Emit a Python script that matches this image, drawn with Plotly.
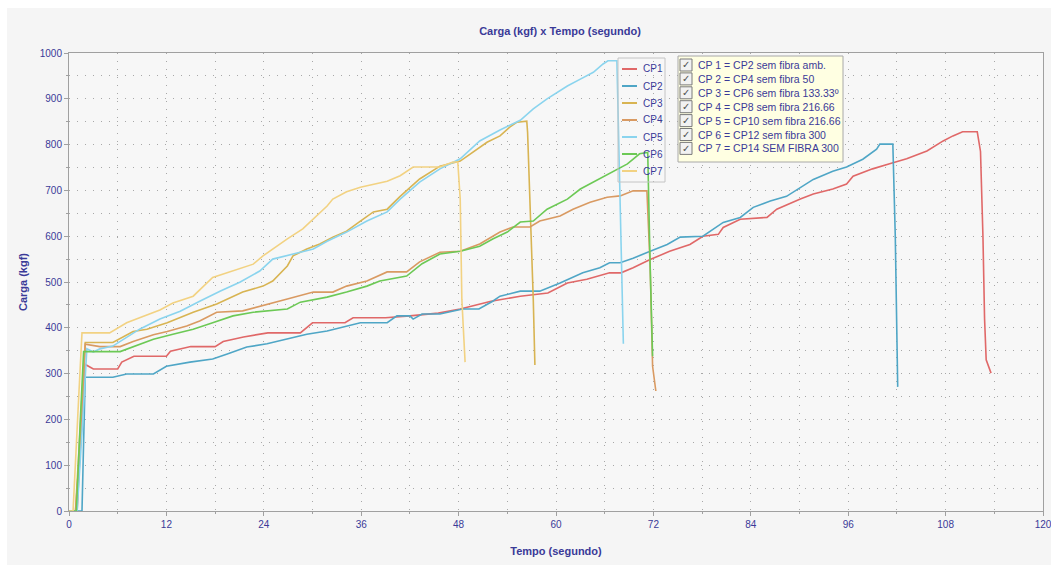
import plotly.graph_objects as go

# ---------------- data ----------------
series_names = ["CP1", "CP2", "CP3", "CP4", "CP5", "CP6", "CP7"]
series_colors = ["#e06868", "#4fa6c6", "#d8b452", "#d99a62", "#8ad4ee", "#6cc955", "#f2d282"]

cp1_x = [0, 1.0, 1.5, 2.0, 3.0, 6.0, 6.5, 8.0, 12.0, 12.5, 15.0, 18.0, 19.0, 21.5, 24.5, 28.5, 30.0, 34.0, 35.0,
         39.0, 42.0, 45.5, 48.2, 52.0, 55.6, 59.0, 61.4, 63.8, 66.6, 68.0, 69.5, 71.6, 74.0, 76.5, 78.1, 80.0,
         80.6, 82.7, 86.0, 87.2, 90.1, 91.7, 94.1, 95.8, 96.6, 99.0, 101.1, 103.2, 105.7, 107.7, 108.9, 110.1,
         111.9, 112.3, 112.6, 112.8, 113.0, 113.6]
cp1_y = [0, 0, 180, 320, 310, 310, 325, 338, 338, 349, 359, 359, 370, 380, 389, 389, 411, 411, 422,
         422, 426, 432, 441, 458, 469, 476, 498, 506, 520, 520, 531, 549, 567, 582, 600, 604,
         619, 637, 641, 659, 681, 692, 703, 714, 731, 747, 758, 769, 786, 808, 819, 828,
         828, 785, 600, 420, 330, 301]

cp2_x = [0, 1.6, 1.8, 2.0, 5.4, 7.1, 10.4, 12.0, 14.9, 17.7, 19.5, 21.9, 24.4, 26.9, 29.3, 31.8, 34.2, 35.9,
         39.2, 40.4, 42.0, 42.4, 43.5, 45.7, 48.5, 50.5, 52.2, 53.1, 55.6, 58.0, 60.5, 63.3, 65.4, 66.6, 67.9,
         69.5, 71.6, 73.7, 75.3, 78.1, 80.6, 82.7, 84.3, 86.4, 88.4, 90.1, 91.7, 94.1, 95.8, 97.8, 99.5, 99.9,
         101.5, 101.8, 102.0, 102.1]
cp2_y = [0, 0, 150, 292, 292, 299, 299, 316, 325, 332, 343, 358, 365, 375, 386, 393, 404, 411,
         411, 426, 426, 419, 430, 430, 441, 441, 458, 469, 480, 480, 498, 520, 531, 542, 542,
         552, 567, 582, 598, 600, 630, 641, 663, 677, 687, 706, 724, 742, 751, 768, 790, 801,
         801, 600, 419, 271]

cp3_x = [0, 0.8, 1.6, 2.0, 3.8, 5.4, 7.9, 9.6, 12.1, 15.3, 18.2, 21.4, 23.9, 25.1, 26.9, 27.6, 29.3, 30.9,
         32.5, 34.2, 35.9, 37.5, 39.2, 40.8, 43.2, 45.7, 48.2, 49.8, 51.5, 53.1, 54.3, 55.2, 56.4, 56.5, 56.8,
         57.2, 57.4]
cp3_y = [0, 0, 250, 368, 368, 368, 392, 397, 411, 434, 452, 478, 491, 502, 535, 557, 572, 583,
         598, 611, 633, 653, 659, 687, 725, 753, 764, 783, 805, 819, 838, 849, 851, 827, 681,
         462, 319]

cp4_x = [0, 0.8, 1.6, 2.0, 3.8, 6.3, 7.9, 10.4, 12.1, 14.5, 16.1, 18.2, 21.4, 24.4, 26.9, 30.1, 32.5, 34.2,
         36.7, 39.2, 41.6, 43.2, 45.7, 48.2, 50.6, 53.1, 54.7, 56.8, 58.0, 60.5, 62.1, 64.2, 66.3, 67.9, 69.5,
         71.2, 71.6, 71.9, 72.3]
cp4_y = [0, 0, 200, 364, 359, 359, 370, 385, 392, 404, 415, 434, 437, 452, 463, 478, 478, 491,
         502, 522, 522, 544, 565, 567, 583, 609, 620, 620, 633, 644, 659, 674, 685, 688, 699,
         699, 535, 316, 262]

cp5_x = [0, 1.0, 1.7, 2.2, 3.0, 3.8, 5.4, 7.1, 8.7, 11.2, 13.7, 16.1, 18.6, 21.1, 23.5, 25.1, 27.6, 30.1,
         31.8, 34.2, 36.7, 39.2, 40.8, 43.2, 45.7, 48.2, 50.6, 53.1, 55.6, 57.2, 58.9, 61.4, 63.0, 64.6, 65.8,
         66.4, 67.5, 67.6, 68.3]
cp5_y = [0, 0, 200, 354, 347, 354, 360, 380, 397, 419, 436, 458, 480, 500, 524, 550, 561, 572,
         589, 609, 633, 653, 681, 718, 747, 769, 808, 832, 853, 878, 900, 928, 943, 958, 976,
         983, 983, 900, 365]

cp6_x = [0, 0.9, 1.4, 1.8, 6.3, 7.9, 10.4, 12.8, 15.3, 17.7, 20.2, 22.7, 26.9, 28.5, 31.8, 34.2, 36.7, 38.3,
         41.6, 43.5, 45.7, 48.2, 50.6, 52.2, 54.0, 55.6, 57.2, 58.9, 61.4, 63.0, 64.6, 67.0, 68.8, 70.3, 71.3,
         71.6, 71.9]
cp6_y = [0, 0, 200, 348, 348, 359, 375, 386, 397, 411, 426, 434, 441, 456, 467, 478, 491, 502,
         513, 540, 561, 567, 578, 594, 609, 631, 633, 659, 681, 703, 718, 740, 758, 780, 783,
         535, 338]

cp7_x = [0, 0.5, 1.2, 1.6, 5.0, 6.0, 7.1, 8.7, 11.2, 12.8, 15.3, 17.7, 20.2, 22.7, 23.9, 25.1, 26.9, 28.8,
         30.1, 31.8, 32.5, 34.2, 35.9, 37.9, 39.2, 40.8, 42.4, 45.7, 47.3, 47.9, 48.2, 48.4, 48.8]
cp7_y = [0, 0, 250, 389, 389, 400, 411, 422, 439, 454, 469, 510, 524, 539, 557, 572, 594, 616,
         638, 666, 681, 697, 707, 714, 720, 732, 751, 751, 762, 762, 681, 462, 325]

checklist_labels = [
    "CP 1 = CP2 sem fibra amb.",
    "CP 2 = CP4 sem fibra 50",
    "CP 3 = CP6 sem fibra 133.33º",
    "CP 4 = CP8 sem fibra 216.66",
    "CP 5 = CP10 sem fibra 216.66",
    "CP 6 = CP12 sem fibra 300",
    "CP 7 = CP14 SEM FIBRA 300",
]

title_text = "Carga (kgf) x Tempo (segundo)"
x_title = "Tempo (segundo)"
y_title = "Carga (kgf)"

xs = [cp1_x, cp2_x, cp3_x, cp4_x, cp5_x, cp6_x, cp7_x]
ys = [cp1_y, cp2_y, cp3_y, cp4_y, cp5_y, cp6_y, cp7_y]

# ---------------- figure ----------------
W, H = 1051, 565
ML, MR, MT, MB = 69, 8, 53, 54
PW, PH = W - ML - MR, H - MT - MB


def px2xf(px):  # pixel -> paper fraction
    return (px - ML) / PW


def py2yf(py):
    return (H - MB - py) / PH


BLUE = "#3a3a98"
FONT = "Liberation Sans Narrow, Liberation Sans, Arial, sans-serif"

fig = go.Figure()
for name, color, x, y in zip(series_names, series_colors, xs, ys):
    fig.add_trace(go.Scatter(x=x, y=y, mode="lines", name=name,
                             line=dict(color=color, width=1.6), showlegend=False))

grid_common = dict(gridcolor="#a8a8a8", griddash="1px,7px", gridwidth=1)
fig.update_xaxes(range=[0, 120], tick0=0, dtick=12, showline=True, linecolor="#a0a0a0", linewidth=1,
                 mirror=True, ticks="outside", ticklen=4, tickcolor="#a0a0a0", zeroline=False,
                 ticklabeloverflow="allow", automargin=False,
                 tickfont=dict(family=FONT, size=10, color=BLUE),
                 title=dict(text="<b>" + x_title + "</b>", font=dict(family=FONT, size=11, color=BLUE), standoff=18),
                 showgrid=True, **grid_common,
                 minor=dict(dtick=6, showgrid=True, ticks="outside", ticklen=2, tickcolor="#a0a0a0", **grid_common))
fig.update_yaxes(range=[0, 1000], tick0=0, dtick=100, showline=True, linecolor="#a0a0a0", linewidth=1,
                 mirror=True, ticks="outside", ticklen=4, tickcolor="#a0a0a0", zeroline=False,
                 ticklabeloverflow="allow", automargin=False,
                 tickfont=dict(family=FONT, size=10, color=BLUE),
                 title=dict(text="<b>" + y_title + "</b>", font=dict(family=FONT, size=11, color=BLUE), standoff=9),
                 showgrid=True, **grid_common,
                 minor=dict(dtick=50, showgrid=True, ticks="outside", ticklen=2, tickcolor="#a0a0a0", **grid_common))

shapes = []
annotations = []

# white outer strips (top & left) of the original window frame
shapes.append(dict(type="rect", xref="paper", yref="paper", layer="below",
                   x0=px2xf(0), x1=px2xf(W + 20), y0=py2yf(8), y1=py2yf(0),
                   fillcolor="white", line=dict(width=0)))
shapes.append(dict(type="rect", xref="paper", yref="paper", layer="below",
                   x0=px2xf(0), x1=px2xf(7), y0=py2yf(H), y1=py2yf(0),
                   fillcolor="white", line=dict(width=0)))

# series legend box (transparent)
shapes.append(dict(type="rect", xref="paper", yref="paper",
                   x0=px2xf(618), x1=px2xf(665), y0=py2yf(182), y1=py2yf(58),
                   fillcolor="rgba(0,0,0,0)", line=dict(color="#c4c4c4", width=1)))
for i, (name, color) in enumerate(zip(series_names, series_colors)):
    py = 69 + 17 * i
    shapes.append(dict(type="line", xref="paper", yref="paper",
                       x0=px2xf(622), x1=px2xf(637), y0=py2yf(py), y1=py2yf(py),
                       line=dict(color=color, width=2)))
    annotations.append(dict(xref="paper", yref="paper", x=px2xf(641), y=py2yf(py),
                            text=name, showarrow=False, xanchor="left", yanchor="middle",
                            font=dict(family=FONT, size=10, color=BLUE)))

# checklist box
shapes.append(dict(type="rect", xref="paper", yref="paper",
                   x0=px2xf(678), x1=px2xf(843), y0=py2yf(162), y1=py2yf(56),
                   fillcolor="#ffffe2", line=dict(color="#a8a8a8", width=1)))
for i, label in enumerate(checklist_labels):
    py = 65 + 13.9 * i
    shapes.append(dict(type="rect", xref="paper", yref="paper",
                       x0=px2xf(680), x1=px2xf(692), y0=py2yf(py + 6), y1=py2yf(py - 6),
                       fillcolor="#f2f2f2", line=dict(color="#7a7a7a", width=1)))
    annotations.append(dict(xref="paper", yref="paper", x=px2xf(686), y=py2yf(py),
                            text="✓", showarrow=False, xanchor="center", yanchor="middle",
                            font=dict(family="DejaVu Sans", size=10, color="#505050")))
    annotations.append(dict(xref="paper", yref="paper", x=px2xf(696), y=py2yf(py),
                            text=label, showarrow=False, xanchor="left", yanchor="middle",
                            font=dict(family=FONT, size=10.5, color=BLUE)))

fig.update_layout(
    width=W, height=H,
    margin=dict(l=ML, r=MR, t=MT, b=MB, autoexpand=False),
    paper_bgcolor="#f5f5f5", plot_bgcolor="#f7f7f7",
    title=dict(text="<b>" + title_text + "</b>", x=560 / W, xanchor="center",
               y=1 - 31 / H, yanchor="middle",
               xref="container", yref="container", font=dict(family=FONT, size=11, color=BLUE)),
    shapes=shapes, annotations=annotations, showlegend=False,
)

fig.write_html("out.html", config={"displayModeBar": False},
               post_script="document.body.style.margin='0';document.body.style.overflow='hidden';")
